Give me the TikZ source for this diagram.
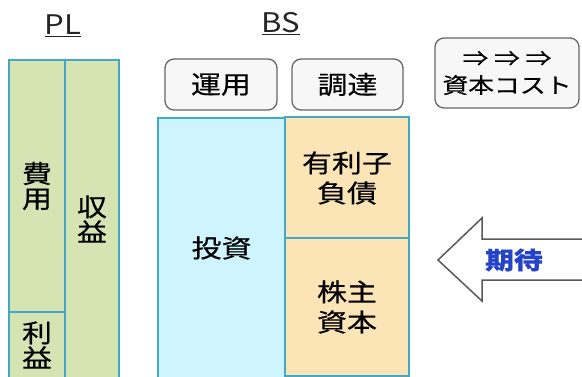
\documentclass[tikz,border=0pt]{standalone}
\usepackage{fontspec}
\setmainfont{Noto Sans CJK JP}[FakeStretch=1.2,FakeBold=0.4]
\newfontfamily\titlefont{Noto Sans CJK JP}[FakeStretch=1.15]
\begin{document}
\begin{tikzpicture}[x=1pt,y=-1pt,
  cell/.style={draw=tealb,line width=1.3pt,inner sep=0pt,align=center,font=\fontsize{25}{30}\selectfont},
  plcell/.style={cell,fill=plgreen,font=\fontsize{25}{25}\selectfont},
  label/.style={draw=gray!80!black,line width=1.3pt,rounded corners=9pt,fill=gray!6,inner sep=0pt,align=center,font=\fontsize{25}{27}\selectfont},
  title/.style={font=\titlefont\fontsize{27}{27}\selectfont,text=black!85}]
\definecolor{tealb}{HTML}{43A8C6}
\definecolor{plgreen}{HTML}{D6E4B4}
\definecolor{bscyan}{HTML}{CDF4FF}
\definecolor{bstan}{HTML}{FBE4B6}
\definecolor{kitai}{HTML}{2443C8}
\useasboundingbox (0,0) rectangle (582,376);
% PL
\node[title] (pl) at (63,26) {\underline{PL}};
\node[plcell,minimum width=56pt,minimum height=252pt] (hiyo) at (37,186) {費\\用};
\node[plcell,minimum width=56pt,minimum height=66pt] (rieki) at (37,345) {利\\益};
\node[plcell,minimum width=54pt,minimum height=318pt] (shueki) at (92,219) {収\\益};
% BS
\node[title] (bs) at (281,24) {\underline{BS}};
\node[label,minimum width=112pt,minimum height=51pt] (unyo) at (221,84.5) {運用};
\node[label,minimum width=111pt,minimum height=51pt] (chotatsu) at (347.5,84.5) {調達};
\node[cell,fill=bscyan,minimum width=127pt,minimum height=260pt] (toshi) at (221.5,248) {投資};
\node[cell,fill=bstan,minimum width=124pt,minimum height=122pt] (yurishi) at (347,178) {有利子\\負債};
\node[cell,fill=bstan,minimum width=124pt,minimum height=138pt] (kabu) at (347,307) {株主\\資本};
% capital cost
\node[label,minimum width=144pt,minimum height=70pt,font=\fontsize{21.5}{27}\selectfont] (cost) at (507,73) {⇒ ⇒ ⇒\\資本コスト};
% arrow
\draw[draw=gray!70!black,line width=1.5pt,fill=white,line join=miter]
  (438,260) -- (482,218) -- (482,239) -- (590,239) -- (590,280) -- (482,280) -- (482,301) -- cycle;
\node[text=kitai,font=\fontsize{24}{24}\selectfont\bfseries] (kitaitext) at (514,260) {期待};
\end{tikzpicture}
\end{document}
